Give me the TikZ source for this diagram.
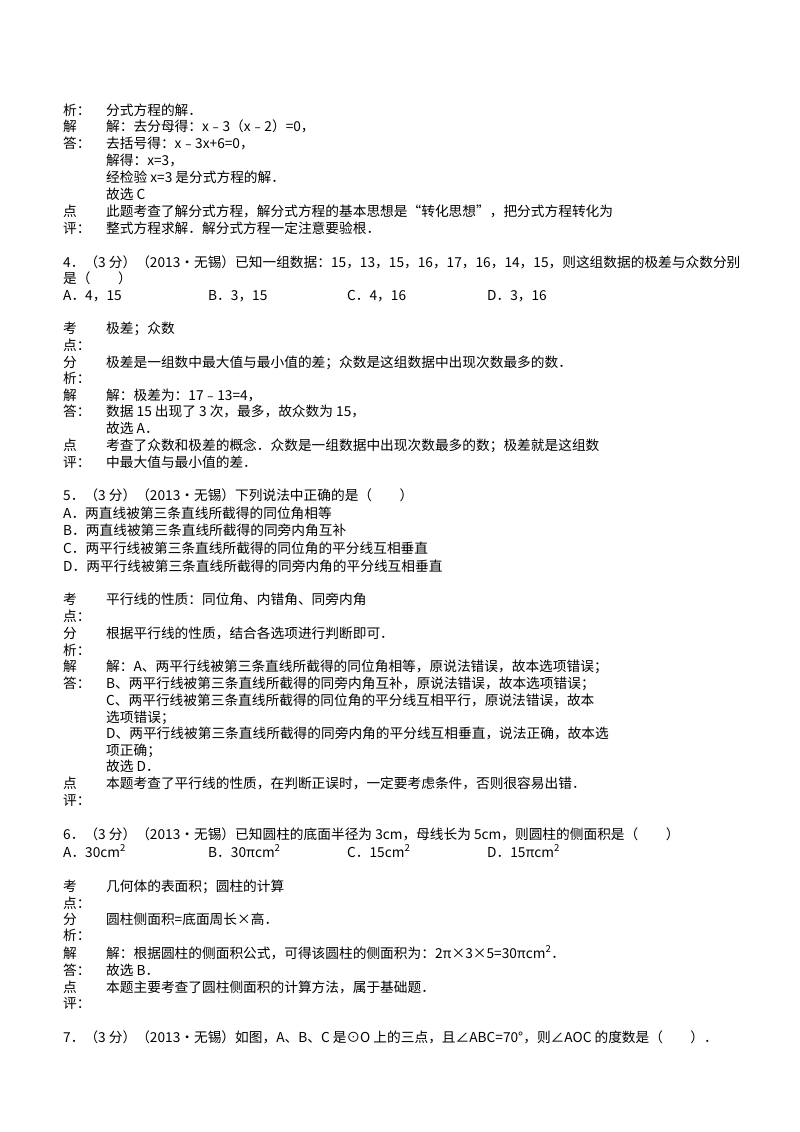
\documentclass[tikz,border=0pt]{standalone}
\usepackage{fontspec}
\setmainfont{Noto Sans CJK SC}
\begin{document}
\begin{tikzpicture}[x=1pt,y=-1pt,t/.style={anchor=base west,inner sep=0pt,font=\fontsize{13.7}{16}\selectfont}]
\useasboundingbox (0,0) rectangle (800,1132);
\def\L#1#2{\node[t] at (63,#1+5) {#2};}
\def\C#1#2{\node[t] at (106,#1+5) {#2};}
% Q3 tail
\L{110}{析：}\C{110}{分式方程的解．}
\L{126}{解}\C{126}{解：去分母得：x﹣3（x﹣2）=0，}
\L{143}{答：}\C{143}{去括号得：x﹣3x+6=0，}
\C{160}{解得：x=3，}
\C{177}{经检验 x=3 是分式方程的解．}
\C{194}{故选 C}
\L{211}{点}\C{211}{此题考查了解分式方程，解分式方程的基本思想是“转化思想”，把分式方程转化为}
\L{228}{评：}\C{228}{整式方程求解．解分式方程一定注意要验根．}
% Q4
\L{262}{4．（3 分）（2013•无锡）已知一组数据：15，13，15，16，17，16，14，15，则这组数据的极差与众数分别}
\L{278}{是（　　）}
\L{295}{A．4，15}
\node[t] at (208,300) {B．3，15};
\node[t] at (347,300) {C．4，16};
\node[t] at (487,300) {D．3，16};
\L{328}{考}\C{328}{极差；众数}
\L{345}{点：}
\L{362}{分}\C{362}{极差是一组数中最大值与最小值的差；众数是这组数据中出现次数最多的数．}
\L{378}{析：}
\L{395}{解}\C{395}{解：极差为：17﹣13=4，}
\L{411}{答：}\C{411}{数据 15 出现了 3 次，最多，故众数为 15，}
\C{428}{故选 A．}
\L{445}{点}\C{445}{考查了众数和极差的概念．众数是一组数据中出现次数最多的数；极差就是这组数}
\L{462}{评：}\C{462}{中最大值与最小值的差．}
% Q5
\L{495}{5．（3 分）（2013•无锡）下列说法中正确的是（　　）}
\L{513}{A．两直线被第三条直线所截得的同位角相等}
\L{530}{B．两直线被第三条直线所截得的同旁内角互补}
\L{548}{C．两平行线被第三条直线所截得的同位角的平分线互相垂直}
\L{566}{D．两平行线被第三条直线所截得的同旁内角的平分线互相垂直}
\L{599}{考}\C{599}{平行线的性质：同位角、内错角、同旁内角}
\L{616}{点：}
\L{633}{分}\C{633}{根据平行线的性质，结合各选项进行判断即可．}
\L{650}{析：}
\L{666}{解}\C{666}{解：A、两平行线被第三条直线所截得的同位角相等，原说法错误，故本选项错误；}
\L{683}{答：}\C{683}{B、两平行线被第三条直线所截得的同旁内角互补，原说法错误，故本选项错误；}
\C{700}{C、两平行线被第三条直线所截得的同位角的平分线互相平行，原说法错误，故本}
\C{717}{选项错误；}
\C{733}{D、两平行线被第三条直线所截得的同旁内角的平分线互相垂直，说法正确，故本选}
\C{750}{项正确；}
\C{766}{故选 D．}
\L{783}{点}\C{783}{本题考查了平行线的性质，在判断正误时，一定要考虑条件，否则很容易出错．}
\L{800}{评：}
% Q6
\L{834}{6．（3 分）（2013•无锡）已知圆柱的底面半径为 3cm，母线长为 5cm，则圆柱的侧面积是（　　）}
\L{852}{A．30cm\textsuperscript{2}}
\node[t] at (208,857) {B．30πcm\textsuperscript{2}};
\node[t] at (347,857) {C．15cm\textsuperscript{2}};
\node[t] at (487,857) {D．15πcm\textsuperscript{2}};
\L{886}{考}\C{886}{几何体的表面积；圆柱的计算}
\L{903}{点：}
\L{919}{分}\C{919}{圆柱侧面积=底面周长×高．}
\L{935}{析：}
\L{953}{解}\C{953}{解：根据圆柱的侧面积公式，可得该圆柱的侧面积为：2π×3×5=30πcm\textsuperscript{2}．}
\L{970}{答：}\C{970}{故选 B．}
\L{987}{点}\C{987}{本题主要考查了圆柱侧面积的计算方法，属于基础题．}
\L{1003}{评：}
% Q7
\L{1037}{7．（3 分）（2013•无锡）如图，A、B、C 是⊙O 上的三点，且∠ABC=70°，则∠AOC 的度数是（　　）．}
\end{tikzpicture}
\end{document}
